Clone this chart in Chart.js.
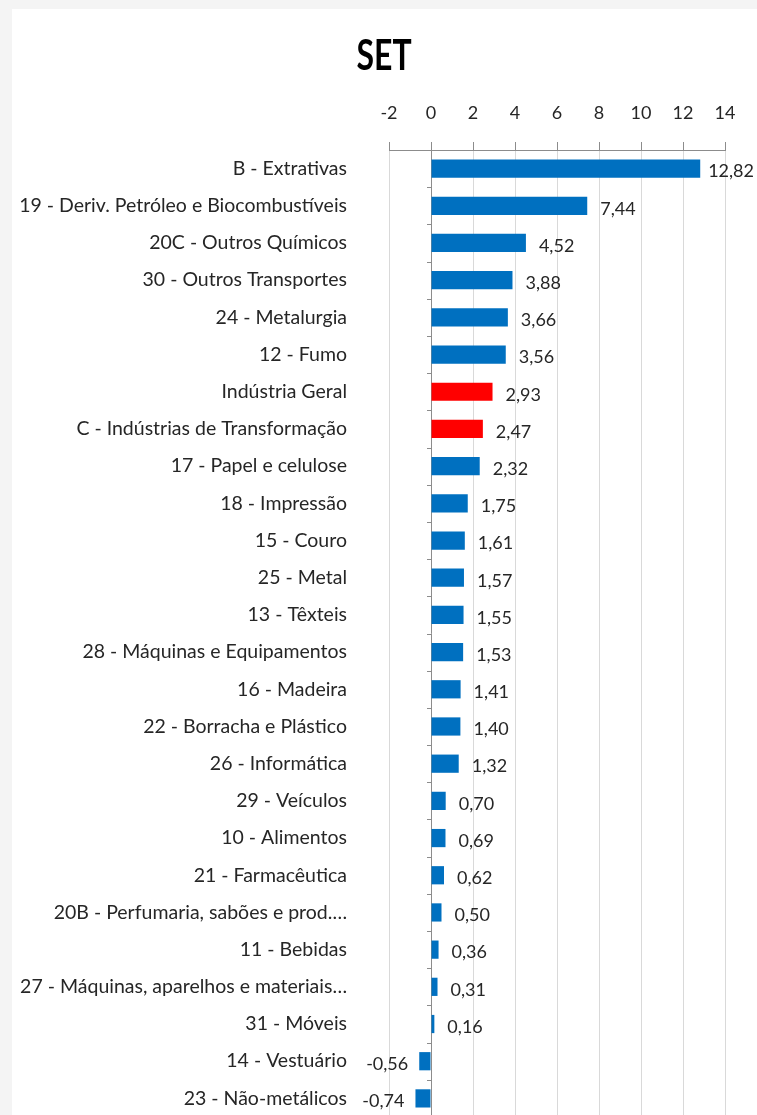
<!DOCTYPE html>
<html>
<head>
<meta charset="utf-8">
<script src="https://cdn.jsdelivr.net/npm/chart.js@4"></script>
<style>
  html, body { margin: 0; padding: 0; background: #f4f4f4; overflow: hidden; }
  #wrap { position: absolute; left: 12px; top: 9px; width: 745px; height: 1115px; background: #fff; }
  canvas { display: block; }
</style>
</head>
<body>
<div id="wrap"><canvas id="barCanvasSet" width="745" height="1115"></canvas></div>
<script>
// SET
const setores = [
    "B - Extrativas",
    "19 - Deriv. Petróleo e Biocombustíveis",
    "20C - Outros Químicos",
    "30 - Outros Transportes",
    "24 - Metalurgia",
    "12 - Fumo",
    "Indústria Geral",
    "C - Indústrias de Transformação",
    "17 - Papel e celulose",
    "18 - Impressão",
    "15 - Couro",
    "25 - Metal",
    "13 - Têxteis",
    "28 - Máquinas e Equipamentos",
    "16 - Madeira",
    "22 - Borracha e Plástico",
    "26 - Informática",
    "29 - Veículos",
    "10 - Alimentos",
    "21 - Farmacêutica",
    "20B - Perfumaria, sabões e prod.…",
    "11 - Bebidas",
    "27 - Máquinas, aparelhos e materiais…",
    "31 - Móveis",
    "14 - Vestuário",
    "23 - Não-metálicos",
];
const valores = [12.82, 7.44, 4.52, 3.88, 3.66, 3.56, 2.93, 2.47, 2.32, 1.75, 1.61, 1.57, 1.55,
    1.53, 1.41, 1.40, 1.32, 0.70, 0.69, 0.62, 0.50, 0.36, 0.31, 0.16, -0.56, -0.74];
const destaques = ["Indústria Geral", "C - Indústrias de Transformação"];
const xMin = -2;
const xMax = 14;
const xPasso = 2;

const azul = "rgb(0, 112, 192)";
const vermelho = "rgb(255, 0, 0)";
const fonte = "Lato, 'Liberation Sans Narrow', sans-serif";

const cores = setores.map(s => destaques.includes(s) ? vermelho : azul);

// titulo, rotulos de valor e eixo no zero
const rotulosPlugin = {
    id: "rotulos",
    beforeDatasetsDraw(chart) {
        const ctx = chart.ctx;
        const x = chart.scales.x.getPixelForValue(0);
        const area = chart.chartArea;
        ctx.save();
        ctx.strokeStyle = "#8c8c8c";
        ctx.lineWidth = 1;
        ctx.beginPath();
        ctx.moveTo(Math.round(x) + 0.5, area.top);
        ctx.lineTo(Math.round(x) + 0.5, area.bottom);
        const passo = (area.bottom - area.top) / setores.length;
        for (let i = 1; i < setores.length; i++) {
            const yy = Math.round(area.top + passo * i) + 0.5;
            ctx.moveTo(x - 4, yy);
            ctx.lineTo(x, yy);
        }
        ctx.stroke();
        ctx.restore();
    },
    afterDatasetsDraw(chart) {
        const ctx = chart.ctx;
        const meta = chart.getDatasetMeta(0);
        ctx.save();
        ctx.font = "18px " + fonte;
        ctx.fillStyle = "#262626";
        ctx.textBaseline = "middle";
        meta.data.forEach((bar, i) => {
            const v = valores[i];
            const txt = v.toFixed(2).replace(".", ",");
            if (v >= 0) {
                const w = ctx.measureText(txt).width;
                const xx = Math.min(bar.x + 13, chart.width - 3 - w);
                ctx.textAlign = "left";
                ctx.fillText(txt, xx, bar.y + 3);
            } else {
                ctx.textAlign = "right";
                ctx.fillText(txt, bar.x - 11, bar.y + 3);
            }
        });
        // titulo (estreito, como no original)
        ctx.font = "bold 40px " + fonte;
        ctx.fillStyle = "#000";
        ctx.textAlign = "center";
        ctx.textBaseline = "middle";
        ctx.translate(372, 47);
        ctx.scale(0.8, 1.05);
        ctx.fillText("SET", 0, 0);
        ctx.restore();
    },
};

const barCanvasSet = document.getElementById("barCanvasSet");

const barChartSet = new Chart(barCanvasSet, {
    type: "bar",
    data: {
        labels: setores,
        datasets: [
            {
                label: "SET",
                data: valores,
                backgroundColor: cores,
                borderWidth: 0,
                categoryPercentage: 1,
                barPercentage: 0.49,
            },
        ],
    },
    options: {
        indexAxis: "y",
        responsive: false,
        animation: false,
        layout: {
            padding: { left: 0, right: 32, top: 72, bottom: 7 },
        },
        plugins: {
            legend: { display: false },
            tooltip: { enabled: false },
            title: { display: false },
        },
        scales: {
            x: {
                position: "top",
                min: xMin,
                max: xMax,
                ticks: {
                    stepSize: xPasso,
                    color: "#262626",
                    font: { family: fonte, size: 18 },
                    padding: 18,
                },
                grid: {
                    color: "#d9d9d9",
                    tickColor: "#8c8c8c",
                    tickLength: 8,
                },
                border: { color: "#8c8c8c" },
                afterFit(scale) {
                    scale.height = 69;
                },
            },
            y: {
                ticks: {
                    color: "#262626",
                    font: { family: fonte, size: 19.5 },
                    padding: 42,
                    autoSkip: false,
                },
                grid: { display: false, drawTicks: false },
                border: { display: false },
                afterFit(scale) {
                    scale.width = 377;
                    scale.paddingTop = 0;
                    scale.paddingBottom = 0;
                },
            },
        },
    },
    plugins: [rotulosPlugin],
});
</script>
</body>
</html>
